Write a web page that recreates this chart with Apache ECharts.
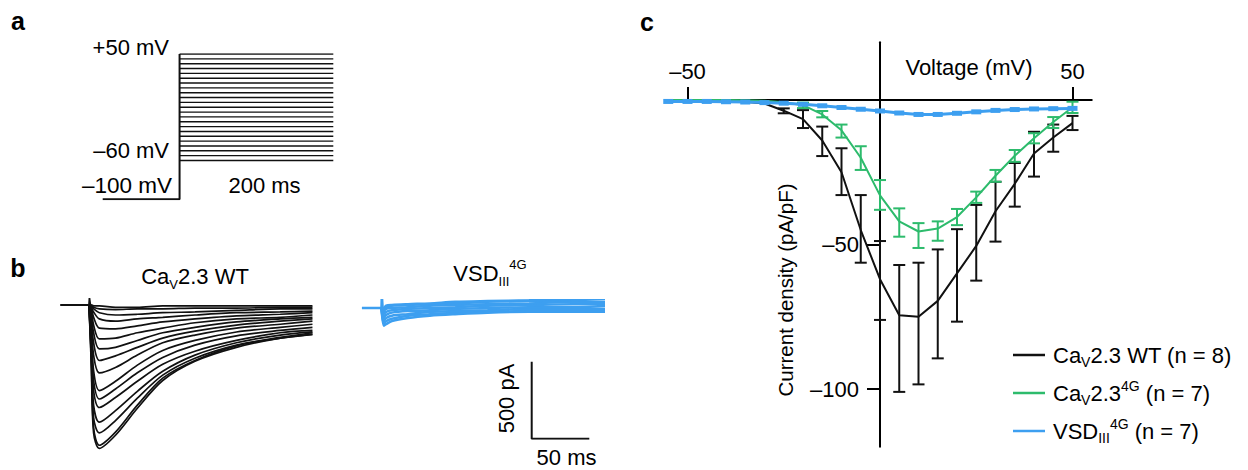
<!DOCTYPE html>
<html><head><meta charset="utf-8">
<script src="https://cdn.jsdelivr.net/npm/echarts@6/dist/echarts.min.js"></script>
<style>html,body{margin:0;padding:0;background:#fff}#c{width:1248px;height:470px}</style>
</head><body><div id="c"></div>
<script>
// ---------- Panel a: voltage protocol ----------
const holdingPotential = -100;               // mV
const stepVoltages = [-60,-55,-50,-45,-40,-35,-30,-25,-20,-15,-10,-5,0,5,10,15,20,25,30,35,40,45,50];
const prePulseMs = -100;
const stepEndMs = 200;

// ---------- Panel b: current traces (pA vs ms) ----------
const traceTimes = [0, 2, 4, 9, 23, 42, 64, 92, 128, 166, 194];
const wtTraces = [
  [0,-390,-830,-930,-845,-670,-490,-365,-275,-215,-190],
  [0,-355,-795,-910,-825,-650,-475,-360,-265,-215,-190],
  [0,-325,-730,-830,-750,-605,-455,-345,-260,-210,-180],
  [0,-295,-650,-760,-685,-560,-430,-325,-245,-195,-175],
  [0,-245,-555,-665,-600,-495,-385,-300,-230,-180,-165],
  [0,-195,-490,-610,-545,-440,-340,-260,-200,-165,-145],
  [0,-165,-425,-555,-495,-390,-295,-230,-175,-145,-125],
  [0,-115,-325,-440,-405,-325,-245,-195,-150,-125,-105],
  [0,-80,-245,-360,-330,-275,-215,-170,-130,-105,-90],
  [0,-50,-180,-285,-275,-230,-180,-145,-110,-90,-80],
  [0,-30,-130,-220,-215,-180,-150,-115,-90,-80,-65],
  [0,-20,-80,-150,-155,-135,-110,-90,-70,-60,-50],
  [0,-15,-45,-90,-105,-90,-80,-65,-50,-45,-40],
  [0,-5,-25,-50,-65,-60,-50,-45,-35,-25,-25],
  [0,0,-15,-25,-30,-25,-25,-20,-20,-15,-15],
  [0,0,-5,-5,-15,-15,-5,-5,-5,-5,-5]
];
const vsdTraces = [
  [0,-115,-105,-85,-65,-50,-40,-30,-25,-25,-25],
  [0,-100,-85,-70,-50,-40,-30,-25,-20,-20,-20],
  [0,-80,-65,-50,-40,-25,-20,-15,-5,-5,-5],
  [0,-60,-45,-30,-20,-15,-5,0,5,5,15],
  [0,-40,-25,-15,-5,0,5,15,20,25,25],
  [0,-20,-5,0,5,15,20,25,30,40,40],
  [0,-5,5,15,20,25,30,40,45,50,60],
  [0,0,15,20,25,30,40,45,50,60,65]
];
const wtLead = [[-25,0],[0,0],[0.4,45],[1.2,0]];
const vsdLead = [[-17,0],[0,0],[0.3,85],[1,0]];
const scaleBarMs = 50;
const scaleBarPa = 500;

// ---------- Panel c: I-V relationship ----------
const voltages = [-55,-50,-45,-40,-35,-30,-25,-20,-15,-10,-5,0,5,10,15,20,25,30,35,40,45,50];
const wtMean  = [0,0,-0.1,-0.3,-0.6,-1.2,-3.7,-6.6,-14,-25,-45,-62,-74.5,-75,-69.5,-60,-50.5,-38.5,-29,-18.5,-13,-8];
const g4Mean  = [0,0,0,0,-0.1,-0.3,-0.8,-1.8,-5,-10.5,-20,-33,-42,-45.5,-44.5,-40.5,-33.7,-26.2,-19.3,-13.2,-7.6,-2.5];
const vsdMean = [-0.5,-0.5,-0.5,-0.6,-0.7,-0.9,-1.1,-1.5,-2,-2.6,-3.2,-3.8,-4.5,-5,-5,-4.6,-4.1,-3.6,-3.3,-3.1,-3,-2.9];
const wtErrV  = [-25,-20,-15,-10,-5,0,5,10,15,20,25,30,35,40,45,50];
const wtLow   = [-4.6,-9.7,-19.4,-32.9,-56.3,-76.1,-101,-98.4,-89.4,-76.7,-62.5,-49,-36.9,-26.5,-17.9,-10.4];
const wtHigh  = [-2.9,-3.5,-9.2,-16.7,-32.9,-48.8,-57.1,-56.3,-51.7,-44.7,-36.3,-28.3,-21.8,-11,-8.5,-5.5];
const g4ErrV  = [-20,-15,-10,-5,0,5,10,15,20,25,30,35,40,45,50];
const g4Low   = [-2.8,-6,-13,-24.2,-38,-47.3,-51.2,-48.7,-43.3,-35.6,-28.3,-21.4,-15,-9.7,-4.5];
const g4High  = [-0.9,-3.8,-8.5,-16,-27.7,-37.5,-42.6,-42,-37.7,-31.7,-24.2,-17.3,-11.5,-5.9,-0.6];
const xTickValues = [-50, 50];
const yTickValues = [-50, -100];
const xRange = [-55, 55];
const yRange = [-120, 20];

// ---------- styling ----------
const FONT = '"Liberation Sans", Arial, Helvetica, sans-serif';
const BLACK = '#111111', GREEN = '#2dbb6c', BLUE = '#3d9ff0';
const dash = v => String(v).replace('-', '\u2013');

// panel c grid geometry (pixels)
const CG = {left:668.25, top:42.2, width:423.5, height:404.6};
const xZeroOffset = -(CG.height * (yRange[1] - 0) / (yRange[1] - yRange[0]));   // move x axis onto y = 0
const yZeroOffset = -(CG.width * (0 - xRange[0]) / (xRange[1] - xRange[0]));    // move y axis onto x = 0

function errBars(color){
  return function(params, api){
    const x = api.value(0), lo = api.value(1), hi = api.value(2);
    const a = api.coord([x, hi]), b = api.coord([x, lo]);
    const w = 6;
    const st = {stroke: color, lineWidth: 2};
    return {type:'group', children:[
      {type:'line', shape:{x1:a[0], y1:a[1], x2:b[0], y2:b[1]}, style:st},
      {type:'line', shape:{x1:a[0]-w, y1:a[1], x2:a[0]+w, y2:a[1]}, style:st},
      {type:'line', shape:{x1:b[0]-w, y1:b[1], x2:b[0]+w, y2:b[1]}, style:st}
    ]};
  };
}

const hiddenX = (g, min, max) => ({type:'value', gridIndex:g, min, max, show:false});
const hiddenY = (g, min, max) => ({type:'value', gridIndex:g, min, max, show:false});

const series = [];
// panel a
series.push({type:'line', xAxisIndex:0, yAxisIndex:0, symbol:'none', silent:true,
  data:[[prePulseMs, holdingPotential],[0, holdingPotential],[0, stepVoltages[stepVoltages.length-1]]],
  lineStyle:{color:BLACK, width:2}});
stepVoltages.forEach(v => series.push({type:'line', xAxisIndex:0, yAxisIndex:0, symbol:'none', silent:true,
  data:[[0, v],[stepEndMs, v]], lineStyle:{color:BLACK, width:1.4}}));
// panel b WT
series.push({type:'line', xAxisIndex:1, yAxisIndex:1, symbol:'none', silent:true, data:wtLead, lineStyle:{color:BLACK, width:1.8}});
wtTraces.forEach(tr => series.push({type:'line', xAxisIndex:1, yAxisIndex:1, symbol:'none', silent:true, smooth:0.3,
  data: tr.map((v,i)=>[traceTimes[i], v]), lineStyle:{color:BLACK, width:1.7}}));
// panel b VSD
series.push({type:'line', xAxisIndex:2, yAxisIndex:2, symbol:'none', silent:true, data:vsdLead, lineStyle:{color:BLUE, width:2.5}});
vsdTraces.forEach(tr => series.push({type:'line', xAxisIndex:2, yAxisIndex:2, symbol:'none', silent:true, smooth:0.3,
  data: tr.map((v,i)=>[traceTimes[i], v]), lineStyle:{color:BLUE, width:2.5}}));
// scale bar
series.push({type:'line', xAxisIndex:3, yAxisIndex:3, symbol:'none', silent:true,
  data:[[scaleBarMs,0],[0,0],[0,scaleBarPa]], lineStyle:{color:BLACK, width:2}});
// panel c
series.push({type:'custom', xAxisIndex:4, yAxisIndex:4, silent:true, renderItem: errBars(BLACK),
  encode:{x:0, y:[1,2]}, data: wtErrV.map((v,i)=>[v, wtLow[i], wtHigh[i]])});
series.push({name:'wt', type:'line', xAxisIndex:4, yAxisIndex:4, symbol:'none', silent:true,
  data: voltages.map((v,i)=>[v, wtMean[i]]), itemStyle:{color:BLACK}, lineStyle:{color:BLACK, width:2}});
series.push({type:'custom', xAxisIndex:4, yAxisIndex:4, silent:true, renderItem: errBars(GREEN),
  encode:{x:0, y:[1,2]}, data: g4ErrV.map((v,i)=>[v, g4Low[i], g4High[i]])});
series.push({name:'g4', type:'line', xAxisIndex:4, yAxisIndex:4, symbol:'none', silent:true,
  data: voltages.map((v,i)=>[v, g4Mean[i]]), itemStyle:{color:GREEN}, lineStyle:{color:GREEN, width:2}});
series.push({name:'vsd', type:'line', xAxisIndex:4, yAxisIndex:4, symbol:'rect', symbolSize:[10,5], silent:true,
  data: voltages.map((v,i)=>[v, vsdMean[i]]), itemStyle:{color:BLUE}, lineStyle:{color:BLUE, width:3}});

const RICH = {
  m:{fontSize:22, fontFamily:FONT, color:'#000', lineHeight:28},
  p:{fontSize:22, fontFamily:FONT, color:'#000', lineHeight:28, padding:[0,0,0,3]},
  s:{fontSize:14, fontFamily:FONT, color:'#000', lineHeight:18, verticalAlign:'bottom'},
  u:{fontSize:14, fontFamily:FONT, color:'#000', lineHeight:21, verticalAlign:'top'}
};
const LEG = {
  wt:'{p|Ca}{s|V}{m|2.3 WT (n = 8)}',
  g4:'{p|Ca}{s|V}{m|2.3}{u|4G}{m| (n = 7)}',
  vsd:'{p|VSD}{s|III}{u|4G}{m| (n = 7)}'
};
const TRICH = {
  m:{fontSize:22, fontFamily:FONT, color:'#000', lineHeight:30},
  s:{fontSize:13, fontFamily:FONT, color:'#000', lineHeight:19, verticalAlign:'bottom'},
  u:{fontSize:13, fontFamily:FONT, color:'#000', lineHeight:20, verticalAlign:'top'}
};

function txt(x, y, text, opts){
  opts = opts || {};
  return {type:'text', x, y, rotation: opts.rot || 0, silent:true,
    style:{text, font:(opts.bold?'bold ':'') + (opts.size||22) + 'px ' + FONT, fill:'#000',
      textAlign: opts.align || 'center', textVerticalAlign:'middle', rich: opts.rich}};
}

const option = {
  animation:false,
  backgroundColor:'#fff',
  textStyle:{fontFamily:FONT},
  grid:[
    {left:102.7, top:54, width:230.6, height:145.2},
    {left:60.2, top:297.3, width:253.4, height:154.1},
    {left:361.9, top:300.3, width:245.4, height:154.1},
    {left:531.7, top:361.7, width:57.6, height:77},
    CG
  ],
  xAxis:[
    hiddenX(0, prePulseMs, stepEndMs),
    hiddenX(1, -25, 195),
    hiddenX(2, -17, 196),
    hiddenX(3, 0, scaleBarMs),
    {type:'value', gridIndex:4, min:xRange[0], max:xRange[1], position:'top', offset:xZeroOffset, splitLine:{show:false},
      axisLine:{onZero:false, lineStyle:{color:'#000', width:2}},
      axisTick:{show:true, inside:false, length:13, customValues:xTickValues, lineStyle:{color:'#000', width:2}},
      axisLabel:{margin:18, customValues:xTickValues, formatter:dash, color:'#000', fontSize:22, fontFamily:FONT}}
  ],
  yAxis:[
    hiddenY(0, holdingPotential, 50),
    hiddenY(1, -950, 50),
    hiddenY(2, -950, 50),
    hiddenY(3, 0, scaleBarPa),
    {type:'value', gridIndex:4, min:yRange[0], max:yRange[1], position:'left', offset:yZeroOffset, splitLine:{show:false},
      axisLine:{onZero:false, lineStyle:{color:'#000', width:2}},
      axisTick:{show:true, length:13, customValues:yTickValues, lineStyle:{color:'#000', width:2}},
      axisLabel:{margin:21, customValues:yTickValues, formatter:dash, color:'#000', fontSize:22, fontFamily:FONT}}
  ],
  legend:{
    data:['wt','g4','vsd'], orient:'vertical', left:1008, top:339, icon:'rect',
    itemWidth:32, itemHeight:2.5, itemGap:10, selectedMode:false,
    formatter: name => LEG[name],
    textStyle:{rich:RICH, fontFamily:FONT, fontSize:22, color:'#000'}
  },
  graphic:[
    txt(18, 21, 'a', {bold:true, size:25}),
    txt(18, 268, 'b', {bold:true, size:25}),
    txt(647, 22, 'c', {bold:true, size:25}),
    txt(169, 47.5, '+50 mV', {align:'right'}),
    txt(169, 150.5, '\u201360 mV', {align:'right'}),
    txt(172, 185, '\u2013100 mV', {align:'right', size:22.5}),
    txt(264.5, 185, '200 ms'),
    txt(195, 276, '{m|Ca}{s|V}{m|2.3 WT}', {rich:TRICH}),
    txt(490, 273, '{m|VSD}{s|III}{u|4G}', {rich:TRICH}),
    txt(506.5, 398.5, '500 pA', {rot:Math.PI/2}),
    txt(566.5, 457.5, '50 ms'),
    txt(969, 67.5, 'Voltage (mV)'),
    txt(785, 290, 'Current density (pA/pF)', {rot:Math.PI/2, size:20.5})
  ],
  series
};

const chart = echarts.init(document.getElementById('c'), null, {renderer:'svg', width:1248, height:470});
chart.setOption(option);
</script>
</body></html>
